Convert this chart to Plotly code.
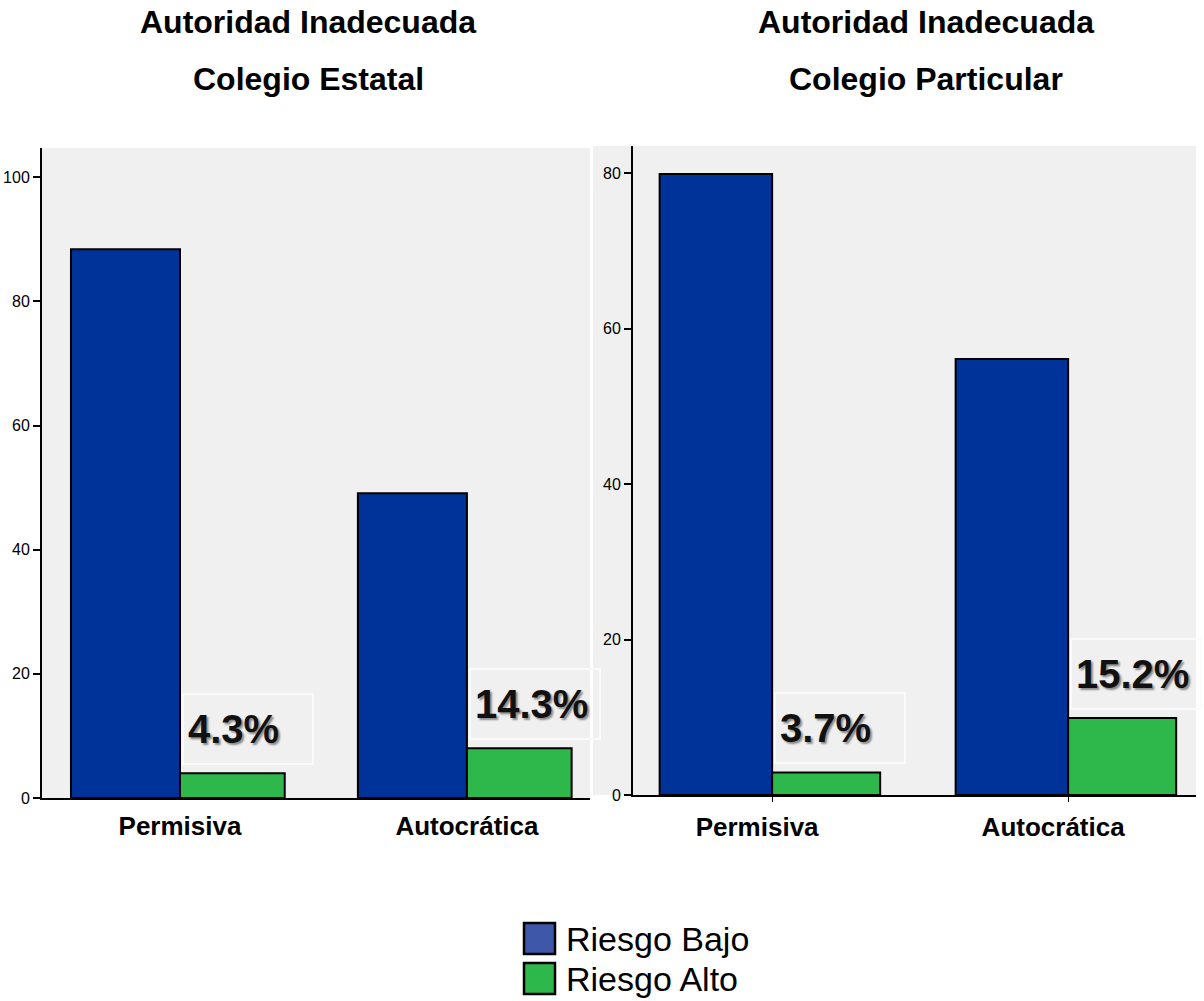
import plotly.graph_objects as go

# Data: percentage of students per authority style, by risk level
categories = ["Permisiva", "Autocrática"]
estatal_bajo = [88.4, 49.1]
estatal_alto = [4.0, 8.0]
particular_bajo = [79.9, 56.1]
particular_alto = [2.9, 9.9]
estatal_labels = ["4.3%", "14.3%"]
particular_labels = ["3.7%", "15.2%"]
titles = [["Autoridad Inadecuada", "Colegio Estatal"],
          ["Autoridad Inadecuada", "Colegio Particular"]]
y_ticks_estatal = [0, 20, 40, 60, 80, 100]
y_ticks_particular = [0, 20, 40, 60, 80]
series_names = ["Riesgo Bajo", "Riesgo Alto"]

BLUE = "#003399"
GREEN = "#2EB84B"
LEG_BLUE = "#3E57A8"
BG = "#F0F0F0"
W, H = 1204, 1001

x_idx = list(range(len(categories)))


def px(x):
    return x / W


def py(y):
    return 1 - y / H


fig = go.Figure()

panels = [
    (estatal_bajo, estatal_alto, "x", "y"),
    (particular_bajo, particular_alto, "x2", "y2"),
]
for bajo, alto, xa, ya in panels:
    fig.add_trace(go.Bar(
        x=x_idx, y=bajo, xaxis=xa, yaxis=ya, name=series_names[0],
        width=0.38, offset=-0.38, marker=dict(color=BLUE, line=dict(color="black", width=2)),
        showlegend=False, hoverinfo="skip"))
    fig.add_trace(go.Bar(
        x=x_idx, y=alto, xaxis=xa, yaxis=ya, name=series_names[1],
        width=0.365, offset=0, marker=dict(color=GREEN, line=dict(color="black", width=2)),
        showlegend=False, hoverinfo="skip"))

tick_font = dict(family="Liberation Sans Narrow, Arial Narrow, Liberation Sans, sans-serif",
                 size=16, color="black")
cat_font = dict(family="Liberation Sans, Arial, sans-serif", size=26, color="black", weight="bold")

common_x = dict(tickmode="array", tickvals=x_idx, ticktext=categories, tickfont=cat_font,
                showline=True, linecolor="black", linewidth=2, showgrid=False, zeroline=False,
                fixedrange=True, automargin=False)
common_y = dict(tickmode="array", tickfont=tick_font, showline=True, linecolor="black",
                linewidth=2, ticks="outside", ticklen=7, tickwidth=1.5, tickcolor="black",
                showgrid=False, zeroline=False, fixedrange=True, automargin=False)

fig.update_layout(
    width=W, height=H,
    margin=dict(l=0, r=0, t=0, b=0, autoexpand=False),
    paper_bgcolor="white",
    plot_bgcolor="rgba(0,0,0,0)",
    barmode="overlay",
    showlegend=False,
    xaxis=dict(domain=[px(42), px(590)], range=[-0.481, 1.429], anchor="y",
               ticks="", ticklabelstandoff=4, **common_x),
    yaxis=dict(domain=[py(798), py(148)], range=[0, 104.7], anchor="x",
               tickvals=y_ticks_estatal, **common_y),
    xaxis2=dict(domain=[px(633), px(1196)], range=[-0.47, 1.432], anchor="y2",
                ticks="outside", ticklen=5, tickcolor="black", ticklabelshift=-15,
                ticklabelstandoff=3, **common_x),
    yaxis2=dict(domain=[py(795), py(146)], range=[0, 83.5], anchor="x2",
                tickvals=y_ticks_particular, **common_y),
)

shapes = [
    # panel backgrounds
    dict(type="rect", xref="paper", yref="paper", x0=px(42), x1=px(590), y0=py(798), y1=py(148),
         fillcolor=BG, line=dict(width=0), layer="below"),
    dict(type="rect", xref="paper", yref="paper", x0=px(593), x1=px(1196), y0=py(795), y1=py(146),
         fillcolor=BG, line=dict(width=0), layer="below"),
]

annotations = []

# two-line titles
for (line1, line2), cx in zip(titles, [308, 926]):
    for txt, cy in [(line1, 22), (line2, 79)]:
        annotations.append(dict(
            text=f"<b>{txt}</b>", xref="paper", yref="paper", x=px(cx), y=py(cy),
            xanchor="center", yanchor="middle", showarrow=False,
            font=dict(family="Liberation Sans, Arial, sans-serif", size=32, color="black")))

# percentage labels above the high-risk bars
label_font = dict(family="Liberation Sans, Arial, sans-serif", size=40, color="#111111",
                  weight="bold", shadow="2px 2px 2px #8a8a8a")
for labels, alto, xa, ya in [(estatal_labels, estatal_alto, "x", "y"),
                             (particular_labels, particular_alto, "x2", "y2")]:
    for i, (lab, v) in enumerate(zip(labels, alto)):
        annotations.append(dict(
            text=lab, xref=xa, yref=ya, x=i, y=v, xanchor="left", yanchor="bottom",
            yshift=8, xshift=2, showarrow=False, font=label_font, align="left",
            width=120, height=60, borderpad=4, bordercolor="#FAFAFA", borderwidth=2))

# legend
for name, col, top in [(series_names[0], LEG_BLUE, 923), (series_names[1], GREEN, 963)]:
    shapes.append(dict(type="rect", xref="paper", yref="paper", x0=px(524), x1=px(555),
                       y0=py(top + 31), y1=py(top), fillcolor=col,
                       line=dict(color="black", width=2.5)))
    annotations.append(dict(
        text=name, xref="paper", yref="paper", x=px(564), y=py(top + 16),
        xanchor="left", yanchor="middle", showarrow=False,
        font=dict(family="Liberation Sans, Arial, sans-serif", size=34, color="black")))

fig.update_layout(shapes=shapes, annotations=annotations)

fig.write_html("out.html")
